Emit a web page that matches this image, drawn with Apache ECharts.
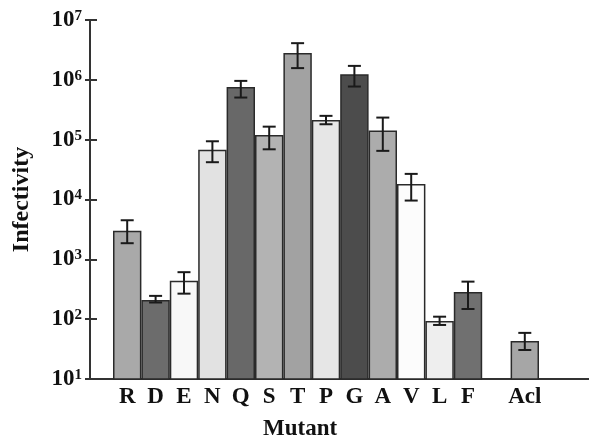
<!DOCTYPE html>
<html>
<head>
<meta charset="utf-8">
<script src="https://cdn.jsdelivr.net/npm/echarts@6/dist/echarts.min.js"></script>
<style>html,body{margin:0;padding:0;background:#fff;}#c{width:589px;height:441px;}</style>
</head>
<body>
<div id="c"></div>
<script>
const categories = ['R','D','E','N','Q','S','T','P','G','A','V','L','F','','Acl'];
const values  = [3000, 210, 440, 68000, 760000, 120000, 2800000, 214000, 1240000, 142000, 18200, 93, 285, null, 43];
const errHigh = [4500, 245, 610, 94000, 960000, 165000, 4100000, 250000, 1710000, 234000, 26800, 110, 424, null, 59];
const errLow  = [1860, 190, 267, 42000, 506000, 69000, 1570000, 181000, 773000, 65000, 9600, 80, 148, null, 30.5];
const yTicks = [10, 100, 1000, 10000, 100000, 1000000, 10000000];
const barColors = ['#a9a9a9','#6c6c6c','#f8f8f8','#e2e2e2','#686868','#b3b3b3','#a2a2a2','#e6e6e6','#4c4c4c','#acacac','#fcfcfc','#eeeeee','#707070','#ffffff','#a6a6a6'];

const FONT = 'Liberation Serif';
const chart = echarts.init(document.getElementById('c'), null, {renderer:'canvas'});

const barData = values.map((v, i) => v == null ? null : ({value: v, itemStyle: {color: barColors[i]}}));
const errData = values.map((v, i) => v == null ? null : [i, errLow[i], errHigh[i]]).filter(d => d);

chart.setOption({
  animation: false,
  backgroundColor: '#fff',
  title: {
    text: 'Mutant', left: 263, top: 418, padding: 0,
    textStyle: {fontFamily: FONT, fontWeight: 'bold', fontSize: 23, color: '#111'}
  },
  grid: [
    {left: 113, right: 50, top: 20, bottom: 62},
    {left: 90, right: 0, top: 20, bottom: 62}
  ],
  xAxis: [
    {
      type: 'category', gridIndex: 0, data: categories,
      axisLine: {show: false}, axisTick: {show: false},
      axisLabel: {interval: 0, margin: 7, fontFamily: FONT, fontWeight: 'bold', fontSize: 23, color: '#111'}
    },
    {
      type: 'value', gridIndex: 1, min: 0, max: 1,
      axisLine: {show: true, lineStyle: {color: '#333', width: 2}},
      axisTick: {show: false}, axisLabel: {show: false}, splitLine: {show: false}
    }
  ],
  yAxis: [
    {
      type: 'log', logBase: 10, gridIndex: 0, position: 'left', min: 10, max: 10000000, offset: 23,
      name: 'Infectivity', nameLocation: 'middle', nameRotate: 90, nameGap: 56,
      nameTextStyle: {fontFamily: FONT, fontWeight: 'bold', fontSize: 24, color: '#111'},
      axisLine: {show: true, lineStyle: {color: '#333', width: 2}},
      axisTick: {show: true, length: 5, lineStyle: {color: '#333', width: 2}},
      splitLine: {show: false},
      axisLabel: {
        margin: 8,
        formatter: v => '{b|10}{s|' + Math.round(Math.log10(v)) + '}',
        rich: {
          b: {fontFamily: FONT, fontWeight: 'bold', fontSize: 23, color: '#111'},
          s: {fontFamily: FONT, fontWeight: 'bold', fontSize: 15, color: '#111', verticalAlign: 'top'}
        }
      }
    },
    {
      type: 'log', logBase: 10, gridIndex: 0, position: 'left', min: 10, max: 10000000, offset: 23,
      axisLine: {show: false},
      axisTick: {show: true, inside: true, length: 7, lineStyle: {color: '#333', width: 2}},
      axisLabel: {show: false}, splitLine: {show: false}
    },
    {type: 'value', gridIndex: 1, show: false}
  ],
  series: [
    {
      type: 'bar', xAxisIndex: 0, yAxisIndex: 0, data: barData,
      barCategoryGap: '0%',
      itemStyle: {borderColor: '#2a2a2a', borderWidth: 1.5}
    },
    {
      type: 'custom', xAxisIndex: 0, yAxisIndex: 0, data: errData,
      encode: {x: 0, y: [1, 2]},
      renderItem: function (params, api) {
        const x = api.value(0);
        const lo = api.coord([x, api.value(1)]);
        const hi = api.coord([x, api.value(2)]);
        const hw = 6.5;
        const st = {stroke: '#1a1a1a', lineWidth: 2};
        return {
          type: 'group',
          children: [
            {type: 'line', shape: {x1: lo[0], y1: lo[1], x2: hi[0], y2: hi[1]}, style: st},
            {type: 'line', shape: {x1: lo[0]-hw, y1: lo[1], x2: lo[0]+hw, y2: lo[1]}, style: st},
            {type: 'line', shape: {x1: hi[0]-hw, y1: hi[1], x2: hi[0]+hw, y2: hi[1]}, style: st}
          ]
        };
      },
      z: 10
    }
  ]
});
</script>
</body>
</html>
